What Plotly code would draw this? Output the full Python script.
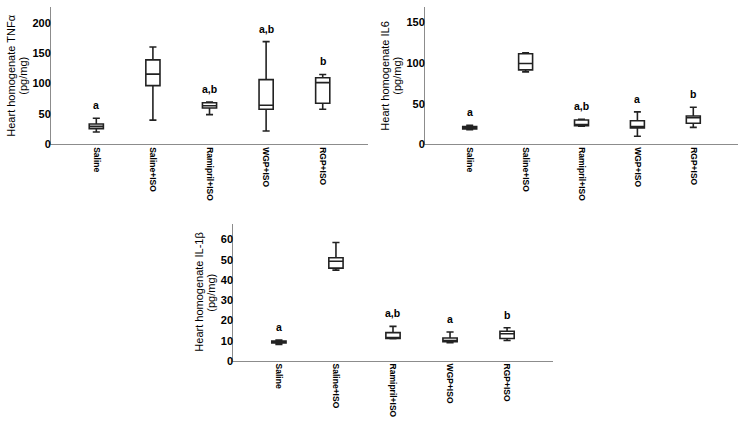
import plotly.graph_objects as go

categories = ["Saline", "Saline+ISO", "Ramipril+ISO", "WGP+ISO", "RGP+ISO"]

# TNFα panel
tnf_low = [20.5, 40, 49, 22, 57.8]
tnf_q1 = [26, 96.7, 60, 57.8, 67.6]
tnf_med = [29.7, 115.6, 63.7, 64.3, 101.6]
tnf_q3 = [33.5, 139, 68.6, 106.5, 109.7]
tnf_high = [43, 160, 69.5, 169, 115]
tnf_letters = ["a", "", "a,b", "a,b", "b"]

# IL6 panel
il6_low = [18.2, 89.2, 22.3, 10, 21]
il6_q1 = [19.1, 91.6, 23.1, 20.3, 26]
il6_med = [20.3, 99.4, 24.3, 21.9, 32.8]
il6_q3 = [21.9, 111.5, 30, 29.2, 34.9]
il6_high = [23.5, 112.7, 30.8, 40, 45.8]
il6_letters = ["a", "", "a,b", "a", "b"]

# IL-1β panel
il1_low = [8.2, 44.9, 11, 9, 10.1]
il1_q1 = [8.9, 45.9, 11.1, 9.5, 11.1]
il1_med = [9.3, 49.3, 11.3, 10.1, 13.4]
il1_q3 = [9.8, 51, 14, 11.3, 14.7]
il1_high = [10.3, 58.6, 17.1, 14.3, 16.4]
il1_letters = ["a", "", "a,b", "a", "b"]

FONT = "Liberation Sans, Arial, sans-serif"
LINE_C = "#222222"
AXIS_C = "#8c8c8c"
TXT_C = "#000000"

panels = [
    dict(low=tnf_low, q1=tnf_q1, med=tnf_med, q3=tnf_q3, high=tnf_high, letters=tnf_letters,
         title="Heart homogenate TNFα", unit="(pg/mg)", yrange=[0, 226], dtick=50, digits=3,
         xdom=[0.0684, 0.4933], ydom=[0.6609, 0.9838]),
    dict(low=il6_low, q1=il6_q1, med=il6_med, q3=il6_q3, high=il6_high, letters=il6_letters,
         title="Heart homogenate IL6", unit="(pg/mg)", yrange=[0, 169], dtick=50, digits=3,
         xdom=[0.5697, 0.9893], ydom=[0.6609, 0.9838]),
    dict(low=il1_low, q1=il1_q1, med=il1_med, q3=il1_q3, high=il1_high, letters=il1_letters,
         title="Heart homogenate IL-1β", unit="(pg/mg)", yrange=[0, 67.8], dtick=10, digits=2,
         xdom=[0.3127, 0.7409], ydom=[0.1528, 0.4745]),
]

fig = go.Figure()
annotations = []
for i, p in enumerate(panels):
    n = i + 1
    xa = "x" if n == 1 else f"x{n}"
    ya = "y" if n == 1 else f"y{n}"
    fig.add_trace(go.Box(
        x=categories, q1=p["q1"], median=p["med"], q3=p["q3"],
        lowerfence=p["low"], upperfence=p["high"],
        xaxis=xa, yaxis=ya, width=0.25, whiskerwidth=0.5,
        fillcolor="white", line=dict(color=LINE_C, width=1.6),
        boxpoints=False, showlegend=False, hoverinfo="skip",
    ))
    for c, h, t in zip(categories, p["high"], p["letters"]):
        if t:
            annotations.append(dict(
                x=c, y=h, xref=xa, yref=ya, text=f"<b>{t}</b>", showarrow=False,
                yanchor="middle", yshift=13, font=dict(family=FONT, size=10.5, color=TXT_C),
            ))
    # y-axis title: two rotated lines, placed left of the tick labels
    base = 28 + 6 * (p["digits"] - 3)
    for txt, off in ((p["title"], base + 12), (p["unit"], base)):
        annotations.append(dict(
            x=0, y=0.5, xref=f"{xa} domain", yref=f"{ya} domain", text=txt,
            textangle=-90, showarrow=False, xanchor="center", yanchor="middle", xshift=-off,
            font=dict(family=FONT, size=11, color=TXT_C),
        ))
    xkey = "xaxis" if n == 1 else f"xaxis{n}"
    ykey = "yaxis" if n == 1 else f"yaxis{n}"
    fig.layout[xkey] = dict(
        domain=p["xdom"], anchor=ya, type="category", range=[-0.8, 4.8],
        showline=True, linecolor=AXIS_C, linewidth=1, showgrid=False, zeroline=False,
        ticks="", tickangle=90, tickfont=dict(family=FONT, size=8.5, color=TXT_C),
        tickvals=categories, ticktext=[f"<b>{c}</b>" for c in categories],
    )
    fig.layout[ykey] = dict(
        domain=p["ydom"], anchor=xa, range=p["yrange"], dtick=p["dtick"], tick0=0,
        showline=True, linecolor=AXIS_C, linewidth=1, showgrid=False, zeroline=False,
        ticks="", tickfont=dict(family=FONT, size=11, color=TXT_C),
        tickprefix="<b>", ticksuffix="</b>", ticklabelstandoff=-3,
    )

fig.update_layout(
    width=746, height=432, margin=dict(l=0, r=0, t=0, b=0),
    paper_bgcolor="white", plot_bgcolor="white",
    annotations=annotations, font=dict(family=FONT),
)

fig.write_html("out.html")
